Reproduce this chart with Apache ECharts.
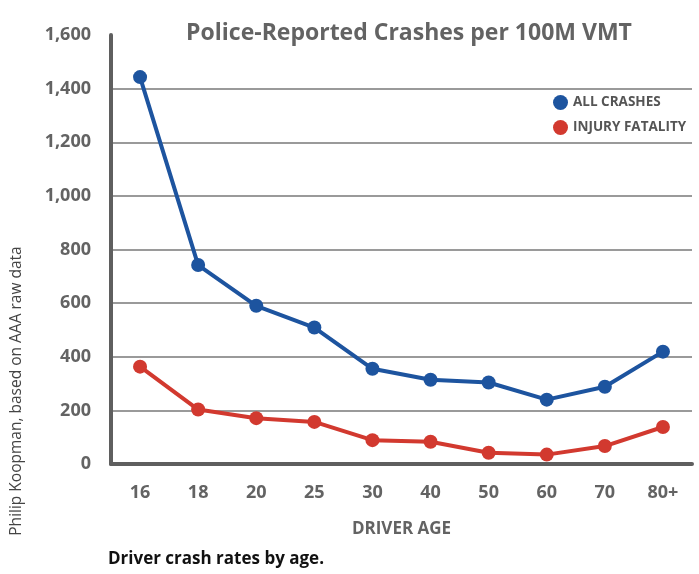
<!DOCTYPE html>
<html>
<head>
<meta charset="utf-8">
<script src="https://cdn.jsdelivr.net/npm/echarts@6/dist/echarts.min.js"></script>
<style>
  html, body { margin: 0; padding: 0; background: #fff; }
  #chart { width: 699px; height: 574px; }
</style>
</head>
<body>
<div id="chart"></div>
<script>
// values (crashes per 100M vehicle miles travelled)
const ages = ['16', '18', '20', '25', '30', '40', '50', '60', '70', '80+'];
const allCrashes = [1443, 742, 590, 509, 355, 314, 304, 240, 288, 419];
const injuryFatality = [363, 203, 171, 157, 89, 83, 42, 35, 67, 138];
const yTicks = [0, 200, 400, 600, 800, 1000, 1200, 1400, 1600];

const textGray = '#636363';
const blue = '#1d549f';
const red = '#d2392f';
const font = 'Open Sans';

const chart = echarts.init(document.getElementById('chart'));

chart.setOption({
  animation: false,
  backgroundColor: '#fff',
  textStyle: { fontFamily: font },
  title: {
    text: 'Police-Reported Crashes per 100M VMT',
    left: 404, top: 17, textAlign: 'center',
    textStyle: { color: textGray, fontSize: 23, fontWeight: 'bold', fontFamily: font }
  },
  legend: {
    orient: 'vertical',
    left: 548, top: 90,
    icon: 'circle', itemWidth: 15, itemHeight: 15, itemGap: 10,
    textStyle: { color: '#555', fontSize: 13.5, fontWeight: 'bold', fontFamily: font },
    data: ['ALL CRASHES', 'INJURY FATALITY']
  },
  grid: { left: 111, right: 7, top: 35, bottom: 110 },
  xAxis: {
    type: 'category',
    data: ages,
    offset: 5,
    name: 'DRIVER AGE',
    nameLocation: 'middle',
    nameGap: 52,
    nameTextStyle: { color: textGray, fontSize: 17, fontWeight: 'bold', fontFamily: font },
    axisLine: { lineStyle: { color: '#5f5f5f', width: 4 } },
    axisTick: { show: false },
    axisLabel: { color: textGray, fontSize: 18, fontWeight: 'bold', margin: 15, fontFamily: font }
  },
  yAxis: {
    type: 'value',
    min: yTicks[0], max: yTicks[yTicks.length - 1], interval: 200,
    axisLine: { show: true, lineStyle: { color: '#5f5f5f', width: 4 } },
    axisTick: { show: false },
    axisLabel: {
      color: textGray, fontSize: 18, fontWeight: 'bold', margin: 20, fontFamily: font,
      formatter: v => v.toLocaleString('en-US')
    },
    splitLine: {
      lineStyle: {
        color: yTicks.map((t, i) => i === yTicks.length - 1 ? 'rgba(0,0,0,0)' : '#9a9a9a'),
        width: 2
      }
    }
  },
  series: [
    {
      name: 'ALL CRASHES', type: 'line', data: allCrashes,
      color: blue, symbol: 'circle', symbolSize: 14,
      lineStyle: { width: 4 }
    },
    {
      name: 'INJURY FATALITY', type: 'line', data: injuryFatality,
      color: red, symbol: 'circle', symbolSize: 14,
      lineStyle: { width: 4 }
    }
  ],
  graphic: [
    {
      type: 'text', x: 17, y: 391, rotation: Math.PI / 2,
      style: {
        text: 'Philip Koopman, based on AAA raw data',
        fill: '#444', fontSize: 15.5, fontFamily: font,
        align: 'center', verticalAlign: 'middle'
      }
    },
    {
      type: 'text', left: 108, top: 551,
      style: {
        text: 'Driver crash rates by age.',
        fill: '#111', fontSize: 17, fontWeight: 'bold', fontFamily: font
      }
    }
  ]
});
</script>
</body>
</html>
